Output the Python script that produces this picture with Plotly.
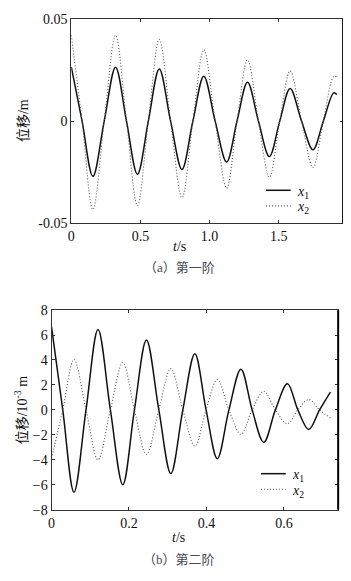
import plotly.graph_objects as go

# ---- data: first mode (a) ----
t_a = [0, 0.078, 0.156, 0.238, 0.32, 0.399, 0.478, 0.557, 0.636, 0.718, 0.8, 0.879,
       0.958, 1.04, 1.123, 1.198, 1.274, 1.353, 1.432, 1.507, 1.582, 1.665, 1.747,
       1.822, 1.897, 1.92]
x1_a = [0.0265, 0, -0.027, 0, 0.0264, 0, -0.026, 0, 0.0255, 0, -0.0236, 0,
        0.022, 0, -0.020, 0, 0.019, 0, -0.0173, 0, 0.016, 0, -0.014,
        0, 0.0138, 0.013]
x2_a = [0.042, 0, -0.0433, 0, 0.042, 0, -0.0413, 0, 0.040, 0, -0.0375, 0,
        0.035, 0, -0.0328, 0, 0.030, 0, -0.0274, 0, 0.0245, 0, -0.0226,
        0, 0.0218, 0.0216]

# ---- data: second mode (b), unit 1e-3 m ----
t_b = [0, 0.029, 0.058, 0.089, 0.12, 0.152, 0.184, 0.214, 0.245, 0.277, 0.308, 0.339,
       0.37, 0.399, 0.428, 0.458, 0.489, 0.518, 0.548, 0.578, 0.609, 0.636, 0.664,
       0.692, 0.72]
x1_b = [6.65, 0, -6.6, 0, 6.44, 0, -6.0, 0, 5.6, 0, -5.1, 0,
        4.5, 0, -3.91, 0, 3.26, 0, -2.6, 0, 2.09, 0, -1.57, 0, 1.43]
x2_b = [-3.9, 0, 4.04, 0, -4.0, 0, 3.78, 0, -3.57, 0, 3.31, 0,
        -2.9, 0, 2.43, 0, -1.96, 0, 1.49, 0, -1.12, 0, 0.83, 0, -0.65]

xt_a = [0, 0.5, 1.0, 1.5]
xt_a_lbl = ["0", "0.5", "1.0", "1.5"]
yt_a = [-0.05, 0, 0.05]
yt_a_lbl = ["-0.05", "0", "0.05"]
xt_b = [0, 0.2, 0.4, 0.6]
xt_b_lbl = ["0", "0.2", "0.4", "0.6"]
yt_b = [-8, -6, -4, -2, 0, 2, 4, 6, 8]
legend_names = ["<i>x</i><sub>1</sub>", "<i>x</i><sub>2</sub>"]

# page body has an 8px margin, so the figure is placed at (8, 8) in the window
OFF = 8
W, H = 351 - OFF, 581 - OFF
SERIF = "Times New Roman, Liberation Serif, serif"
CJK = "Times New Roman, Liberation Serif, Noto Sans CJK SC, serif"

def px_x(v):
    return (v - OFF) / W

def px_y(v):
    return 1 - (v - OFF) / H

fig = go.Figure()

solid = dict(color="#111111", width=1.5, shape="spline")
dotted = dict(color="#555555", width=1.1, dash="1px,2px", shape="spline")

fig.add_trace(go.Scatter(x=t_a, y=x1_a, mode="lines", line=solid,
                         name=legend_names[0], xaxis="x", yaxis="y"))
fig.add_trace(go.Scatter(x=t_a, y=x2_a, mode="lines", line=dotted,
                         name=legend_names[1], xaxis="x", yaxis="y"))
fig.add_trace(go.Scatter(x=t_b, y=x1_b, mode="lines", line=solid,
                         name=legend_names[0], xaxis="x2", yaxis="y2"))
fig.add_trace(go.Scatter(x=t_b, y=x2_b, mode="lines", line=dotted,
                         name=legend_names[1], xaxis="x2", yaxis="y2"))

axis_common = dict(showline=True, linecolor="#333333", linewidth=1, mirror="ticks",
                   ticks="inside", ticklen=3, tickcolor="#333333", showgrid=False,
                   zeroline=False, tickfont=dict(family=SERIF, size=14, color="#111111"))

fig.update_layout(
    width=W, height=H,
    margin=dict(l=0, r=0, t=0, b=0),
    paper_bgcolor="white", plot_bgcolor="white",
    showlegend=False,
    font=dict(family=SERIF),
    xaxis=dict(domain=[px_x(68), px_x(343)], range=[0, 1.965], anchor="y",
               tickvals=xt_a, ticktext=xt_a_lbl, **axis_common),
    yaxis=dict(domain=[px_y(222), px_y(12)], range=[-0.05, 0.05], anchor="x",
               tickvals=yt_a, ticktext=yt_a_lbl, **axis_common),
    xaxis2=dict(domain=[px_x(48), px_x(338)], range=[0, 0.74], anchor="y2",
                tickvals=xt_b, ticktext=xt_b_lbl, **axis_common),
    yaxis2=dict(domain=[px_y(516), px_y(311)], range=[-8, 8], anchor="x2",
                tickvals=yt_b, **axis_common),
)

# thicker right frame as in the reference
for xr, yr in (("x domain", "y domain"), ("x2 domain", "y2 domain")):
    fig.add_shape(type="line", xref=xr, yref=yr, x0=1, x1=1, y0=0, y1=1,
                  line=dict(color="black", width=2))

ann = []

def text(s, x, y, size=14, family=SERIF, color="#111", angle=0, xanchor="center"):
    ann.append(dict(text=s, x=px_x(x), y=px_y(y), xref="paper", yref="paper",
                    xanchor=xanchor, yanchor="middle", showarrow=False, textangle=angle,
                    font=dict(family=family, size=size, color=color)))

# compact legends (sample line + label), as in the reference
legend_rows = [
    (265, 290, 188, 294, solid, legend_names[0]),
    (265, 290, 204, 294, dotted, legend_names[1]),
    (260, 285, 479, 289, solid, legend_names[0]),
    (260, 285, 495, 289, dotted, legend_names[1]),
]
for x0, x1, yy, xt, st, nm in legend_rows:
    ln = dict(color=st["color"], width=st["width"])
    if "dash" in st:
        ln["dash"] = st["dash"]
    fig.add_shape(type="line", xref="paper", yref="paper",
                  x0=px_x(x0), x1=px_x(x1), y0=px_y(yy), y1=px_y(yy), line=ln)
    text(nm, xt, yy + 2, xanchor="left")

text("<i>t</i>/s", 177, 246)
text("<i>t</i>/s", 176, 545)
text("位移/m", 19, 116, family=CJK, angle=-90)
text("位移/10<sup>-3</sup> m", 18, 413, family=CJK, angle=-90)
text("（a）第一阶", 177, 267, size=13, family=CJK, color="#45475a")
text("（b）第二阶", 177, 567, size=13, family=CJK, color="#45475a")
fig.update_layout(annotations=ann)

fig.write_html("out.html")
